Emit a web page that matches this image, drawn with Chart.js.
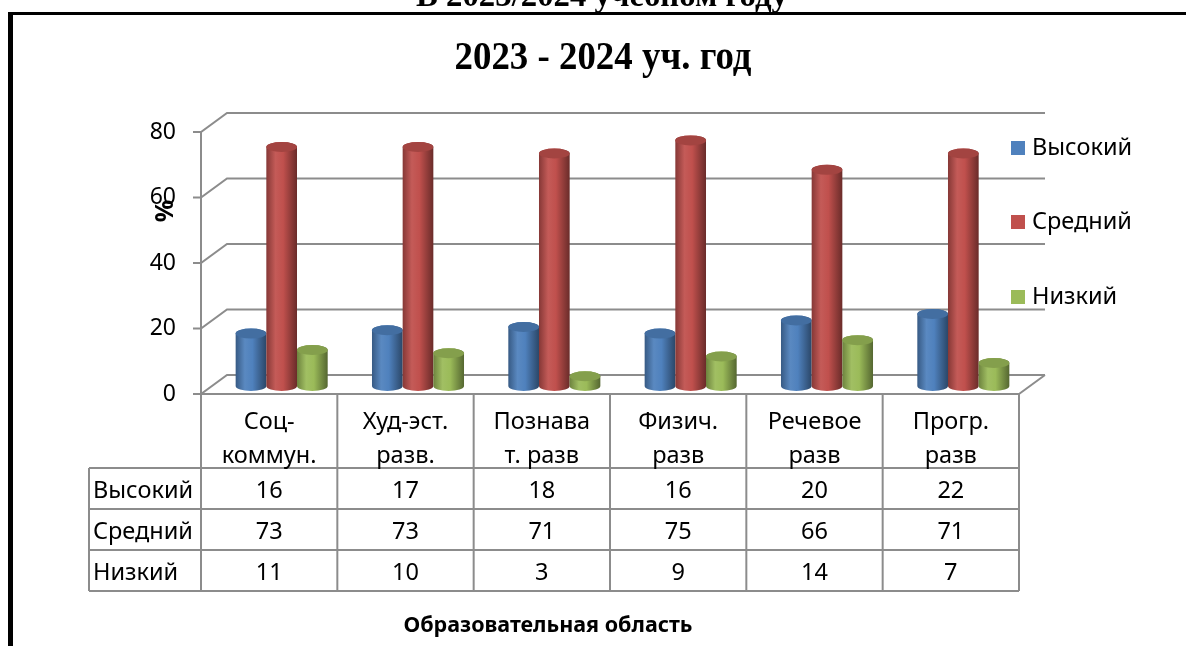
<!DOCTYPE html>
<html>
<head>
<meta charset="utf-8">
<script src="https://cdn.jsdelivr.net/npm/chart.js@4.4.1/dist/chart.umd.min.js"></script>
<style>
  html, body { margin: 0; padding: 0; background: #fff; }
  #wrap { width: 1186px; height: 646px; }
</style>
</head>
<body>
<div id="wrap"><canvas id="chart" width="1186" height="646"></canvas></div>
<script>
// data
const categories = [["Соц-", "коммун."], ["Худ-эст.", "разв."], ["Познава", "т. разв"], ["Физич.", "разв"], ["Речевое", "разв"], ["Прогр.", "разв"]];
const seriesNames = ["Высокий", "Средний", "Низкий"];
const highValues = [16, 17, 18, 16, 20, 22];
const midValues = [73, 73, 71, 75, 66, 71];
const lowValues = [11, 10, 3, 9, 14, 7];
const yTicks = [0, 20, 40, 60, 80];
const seriesColors = ["#4F81BD", "#C0504D", "#9BBB59"];

const pageHeading = "В 2023/2024 учебном году";
const chartTitle = "2023 - 2024 уч. год";
const yTitle = "%";
const xTitle = "Образовательная область";

// 3d look
const DEPTH_X = 26, DEPTH_Y = -19;
const BAR_DX = 12.5, BAR_DY = -8;
const GRID = "#8c8c8c";
const SANS = "'Noto Sans', 'Open Sans', sans-serif";

const shade = (hex, f) => {
  const n = parseInt(hex.slice(1), 16);
  let r = n >> 16, g = (n >> 8) & 255, b = n & 255;
  const t = f < 0 ? 0 : 255, p = Math.abs(f);
  r = Math.round(r + (t - r) * p);
  g = Math.round(g + (t - g) * p);
  b = Math.round(b + (t - b) * p);
  return `rgb(${r},${g},${b})`;
};

const drawCylinder = (ctx, cx, top, bottom, w, color) => {
  const rx = w / 2, ry = 5;
  const grad = ctx.createLinearGradient(cx - rx, 0, cx + rx, 0);
  grad.addColorStop(0, shade(color, -0.3));
  grad.addColorStop(0.3, shade(color, 0.06));
  grad.addColorStop(0.55, color);
  grad.addColorStop(1, shade(color, -0.45));
  ctx.fillStyle = grad;
  ctx.beginPath();
  ctx.moveTo(cx - rx, top);
  ctx.lineTo(cx - rx, bottom);
  ctx.ellipse(cx, bottom, rx, ry, 0, Math.PI, 0, true);
  ctx.lineTo(cx + rx, top);
  ctx.ellipse(cx, top, rx, ry, 0, 0, Math.PI, true);
  ctx.closePath();
  ctx.fill();
  ctx.fillStyle = shade(color, -0.15);
  ctx.beginPath();
  ctx.ellipse(cx, top, rx, ry, 0, 0, Math.PI * 2);
  ctx.fill();
};

// squeezed serif text like the original
const fitText = (ctx, text, cx, y, width) => {
  const w = ctx.measureText(text).width;
  ctx.save();
  ctx.translate(cx, y);
  ctx.scale(width / w, 1);
  ctx.fillText(text, 0, 0);
  ctx.restore();
};

const chart3d = {
  id: "chart3d",
  beforeDraw(chart) {
    const ctx = chart.ctx;
    ctx.save();
    ctx.fillStyle = "#fff";
    ctx.fillRect(0, 0, chart.width, chart.height);
    ctx.fillStyle = "#000";
    ctx.textAlign = "center";
    ctx.textBaseline = "alphabetic";
    ctx.font = "bold 34px 'Liberation Serif'";
    fitText(ctx, pageHeading, 602, 6, 372);
    ctx.fillRect(8, 12, chart.width - 8, 3);
    ctx.fillRect(8, 12, 5, chart.height - 12);
    ctx.font = "bold 39px 'Liberation Serif'";
    fitText(ctx, chartTitle, 603, 69, 297);
    ctx.restore();
  },
  beforeDatasetsDraw(chart) {
    const { ctx, chartArea: a, scales: { y } } = chart;
    ctx.save();
    ctx.strokeStyle = GRID;
    ctx.lineWidth = 2;
    ctx.beginPath();
    yTicks.forEach((v) => {
      const py = y.getPixelForValue(v);
      ctx.moveTo(a.left - 8, py);
      ctx.lineTo(a.left, py);
      ctx.lineTo(a.left + DEPTH_X, py + DEPTH_Y);
      ctx.lineTo(a.right + DEPTH_X, py + DEPTH_Y);
    });
    ctx.moveTo(a.left, a.top);
    ctx.lineTo(a.left, a.bottom);
    ctx.moveTo(a.right, a.bottom);
    ctx.lineTo(a.right + DEPTH_X, a.bottom + DEPTH_Y);
    ctx.stroke();

    ctx.fillStyle = "#000";
    ctx.font = "23px " + SANS;
    ctx.textAlign = "right";
    ctx.textBaseline = "middle";
    yTicks.forEach((v) => ctx.fillText(String(v), a.left - 25, y.getPixelForValue(v)));

    ctx.translate(166, 211);
    ctx.rotate(-Math.PI / 2);
    ctx.textAlign = "center";
    ctx.font = "bold 25px " + SANS;
    ctx.fillText(yTitle, 0, 0);
    ctx.restore();
  },
  beforeDatasetDraw() {
    return false;
  },
  afterDatasetsDraw(chart) {
    const ctx = chart.ctx;
    ctx.save();
    categories.forEach((c, j) => {
      chart.data.datasets.forEach((ds, i) => {
        const bar = chart.getDatasetMeta(i).data[j];
        drawCylinder(ctx, bar.x + BAR_DX, bar.y + BAR_DY, bar.base + BAR_DY, bar.width, ds.backgroundColor);
      });
    });
    ctx.restore();
  },
  afterDraw(chart) {
    const { ctx, chartArea: a, scales: { x } } = chart;
    const colW = (a.right - a.left) / categories.length;
    const headBottom = 468, rowH = 41, labelLeft = 89;
    const rows = chart.data.datasets.length;
    ctx.save();
    ctx.strokeStyle = GRID;
    ctx.lineWidth = 2;
    ctx.beginPath();
    ctx.moveTo(a.left, a.bottom);
    ctx.lineTo(a.right, a.bottom);
    for (let r = 0; r <= rows; r++) {
      ctx.moveTo(labelLeft, headBottom + r * rowH);
      ctx.lineTo(a.right, headBottom + r * rowH);
    }
    for (let j = 0; j <= categories.length; j++) {
      ctx.moveTo(a.left + j * colW, a.bottom);
      ctx.lineTo(a.left + j * colW, headBottom + rows * rowH);
    }
    ctx.moveTo(labelLeft, headBottom);
    ctx.lineTo(labelLeft, headBottom + rows * rowH);
    ctx.stroke();

    ctx.fillStyle = "#000";
    ctx.font = "23.5px " + SANS;
    ctx.textBaseline = "alphabetic";
    ctx.textAlign = "center";
    categories.forEach((c, j) => {
      const cx = x.getPixelForValue(j);
      ctx.fillText(c[0], cx, 429);
      ctx.fillText(c[1], cx, 463);
    });
    chart.data.datasets.forEach((ds, i) => {
      const base = headBottom + i * rowH + 30;
      ctx.textAlign = "left";
      ctx.fillText(ds.label, labelLeft + 4, base);
      ctx.textAlign = "center";
      ds.data.forEach((v, j) => ctx.fillText(String(v), x.getPixelForValue(j), base));
    });

    // legend
    ctx.textBaseline = "middle";
    ctx.textAlign = "left";
    const legendY = [148, 222, 297];
    chart.data.datasets.forEach((ds, i) => {
      ctx.fillStyle = ds.backgroundColor;
      ctx.fillRect(1011, legendY[i] - 7, 14, 14);
      ctx.fillStyle = "#000";
      ctx.fillText(ds.label, 1032, legendY[i]);
    });

    ctx.textAlign = "center";
    ctx.textBaseline = "alphabetic";
    ctx.font = "bold 21.5px " + SANS;
    ctx.fillText(xTitle, 548, 632);
    ctx.restore();
  }
};

new Chart(document.getElementById("chart"), {
  type: "bar",
  data: {
    labels: categories,
    datasets: [
      { label: seriesNames[0], data: highValues, backgroundColor: seriesColors[0] },
      { label: seriesNames[1], data: midValues, backgroundColor: seriesColors[1] },
      { label: seriesNames[2], data: lowValues, backgroundColor: seriesColors[2] }
    ]
  },
  options: {
    responsive: false,
    animation: false,
    devicePixelRatio: 1,
    layout: { padding: { left: 201, right: 167, top: 132, bottom: 252 } },
    datasets: { bar: { categoryPercentage: 0.675, barPercentage: 1 } },
    scales: {
      x: { display: false },
      y: { display: false, min: 0, max: 80, ticks: { stepSize: 20 } }
    },
    plugins: { legend: { display: false }, tooltip: { enabled: false } }
  },
  plugins: [chart3d]
});
</script>
</body>
</html>
